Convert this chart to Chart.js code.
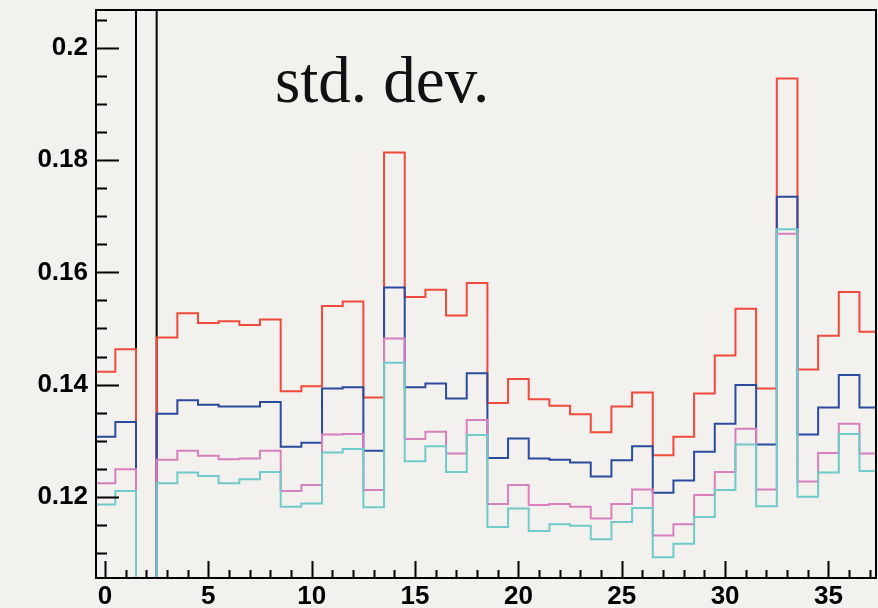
<!DOCTYPE html>
<html>
<head>
<meta charset="utf-8">
<script src="https://cdn.jsdelivr.net/npm/chart.js@4/dist/chart.umd.min.js"></script>
<style>
  html, body { margin: 0; padding: 0; background: #f2f1ee; }
  #wrap { width: 878px; height: 608px; position: relative; }
</style>
</head>
<body>
<div id="wrap"><canvas id="chart"></canvas></div>
<script>
// --- Histogram data (one value per bin, bins centred on integers) ---
const binCenters = [0, 1, 2, 3, 4, 5, 6, 7, 8, 9, 10, 11, 12, 13, 14, 15, 16, 17, 18, 19,
  20, 21, 22, 23, 24, 25, 26, 27, 28, 29, 30, 31, 32, 33, 34, 35, 36, 37];

const redHist = [0.1423, 0.1463, 0, 0.1484, 0.1527, 0.1510, 0.1513, 0.1506, 0.1516, 0.1388,
  0.1397, 0.1540, 0.1548, 0.1377, 0.1814, 0.1556, 0.1569, 0.1523, 0.1581, 0.1367,
  0.1410, 0.1374, 0.1362, 0.1347, 0.1315, 0.1361, 0.1386, 0.1274, 0.1307, 0.1384,
  0.1452, 0.1535, 0.1393, 0.1946, 0.1427, 0.1487, 0.1565, 0.1494];

const blueHist = [0.1307, 0.1333, 0, 0.1348, 0.1372, 0.1364, 0.1361, 0.1361, 0.1369, 0.1289,
  0.1296, 0.1393, 0.1395, 0.1282, 0.1573, 0.1395, 0.1402, 0.1375, 0.1420, 0.1269,
  0.1304, 0.1268, 0.1266, 0.1261, 0.1236, 0.1265, 0.1290, 0.1207, 0.1229, 0.1280,
  0.1330, 0.1399, 0.1293, 0.1735, 0.1311, 0.1359, 0.1417, 0.1359];

const pinkHist = [0.1224, 0.1249, 0, 0.1266, 0.1282, 0.1273, 0.1267, 0.1268, 0.1282, 0.1210,
  0.1221, 0.1311, 0.1312, 0.1212, 0.1482, 0.1303, 0.1316, 0.1277, 0.1337, 0.1187,
  0.1221, 0.1185, 0.1187, 0.1182, 0.1161, 0.1187, 0.1213, 0.1131, 0.1151, 0.1203,
  0.1244, 0.1321, 0.1213, 0.1669, 0.1227, 0.1278, 0.1330, 0.1277];

const cyanHist = [0.1186, 0.1210, 0, 0.1224, 0.1243, 0.1237, 0.1224, 0.1231, 0.1244, 0.1182,
  0.1188, 0.1279, 0.1285, 0.1181, 0.1439, 0.1263, 0.1290, 0.1244, 0.1310, 0.1146,
  0.1179, 0.1139, 0.1151, 0.1148, 0.1124, 0.1155, 0.1180, 0.1092, 0.1116, 0.1164,
  0.1212, 0.1293, 0.1183, 0.1677, 0.1200, 0.1243, 0.1312, 0.1246];

// reference histogram, off scale everywhere except the empty bin
const blackHist = [1, 1, 0, 1, 1, 1, 1, 1, 1, 1, 1, 1, 1, 1, 1, 1, 1, 1, 1, 1,
  1, 1, 1, 1, 1, 1, 1, 1, 1, 1, 1, 1, 1, 1, 1, 1, 1, 1];

const xTickValues = [0, 5, 10, 15, 20, 25, 30, 35];
const yTickValues = [0.12, 0.14, 0.16, 0.18, 0.2];
const yTickLabels = ["0.12", "0.14", "0.16", "0.18", "0.2"];

const X_MIN = -0.435, X_MAX = 37.3;
const Y_MIN = 0.1055, Y_MAX = 0.2068;

// Turn bin contents into step outline points (left edge, right edge)
function toSteps(values) {
  const pts = [];
  values.forEach((v, i) => {
    pts.push({ x: binCenters[i] - 0.5, y: v });
    pts.push({ x: binCenters[i] + 0.5, y: v });
  });
  return pts;
}

function histDataset(values, color) {
  return {
    data: toSteps(values),
    borderColor: color,
    borderWidth: 2,
    pointRadius: 0,
    tension: 0,
    fill: false,
    borderJoinStyle: "miter",
    borderCapStyle: "butt",
    clip: 0,
  };
}

// --- Frame, inward ticks, in-plot text ---
const framePlugin = {
  id: "rootFrame",
  beforeDraw(chart) {
    const ctx = chart.ctx;
    ctx.save();
    ctx.fillStyle = "#f2f1ee";
    ctx.fillRect(0, 0, chart.width, chart.height);
    ctx.restore();
  },
  afterDraw(chart) {
    const { ctx, chartArea: a, scales } = chart;
    const xs = scales.x, ys = scales.y;
    ctx.save();
    ctx.strokeStyle = "#000";
    ctx.lineWidth = 2;

    // y ticks: majors every 0.02, minors every 0.005
    ctx.beginPath();
    for (let k = 21; k <= 41; k++) {
      const v = k * 0.005;
      if (v < Y_MIN || v > Y_MAX) continue;
      const y = Math.round(ys.getPixelForValue(v)) + 0.5;
      const len = k % 4 === 0 ? 23 : 11;
      ctx.moveTo(a.left, y);
      ctx.lineTo(a.left + len, y);
    }
    // x ticks: majors every 5, minors every 1
    for (let k = 0; k <= 37; k++) {
      const x = Math.round(xs.getPixelForValue(k)) + 0.5;
      const len = k % 5 === 0 ? 17 : 8;
      ctx.moveTo(x, a.bottom);
      ctx.lineTo(x, a.bottom - len);
    }
    ctx.stroke();

    ctx.strokeRect(a.left, a.top, a.right - a.left, a.bottom - a.top);

    ctx.fillStyle = "#111";
    ctx.font = "65px 'Liberation Serif', 'DejaVu Serif', serif";
    ctx.textBaseline = "alphabetic";
    ctx.fillText("std. dev.", a.left + 179, a.top + 92);
    ctx.restore();
  },
};

const tickFont = { family: "'Liberation Sans', Arial, sans-serif", size: 26, weight: "bold" };

new Chart(document.getElementById("chart").getContext("2d"), {
  type: "line",
  data: {
    datasets: [
      histDataset(cyanHist, "#6fcaca"),
      histDataset(pinkHist, "#d87fbe"),
      histDataset(blueHist, "#2b4c9e"),
      histDataset(redHist, "#ef4a3b"),
      histDataset(blackHist, "#000000"),
    ],
  },
  options: {
    responsive: true,
    maintainAspectRatio: false,
    devicePixelRatio: 1,
    animation: false,
    layout: { padding: { top: 10, right: 2, left: 0, bottom: 0 } },
    plugins: { legend: { display: false }, tooltip: { enabled: false } },
    scales: {
      x: {
        type: "linear",
        min: X_MIN,
        max: X_MAX,
        grid: { display: false, drawTicks: false },
        border: { display: false },
        afterBuildTicks: (s) => { s.ticks = xTickValues.map((v) => ({ value: v })); },
        afterFit: (s) => {
          s.height = 30;
          s.paddingLeft = 0;
          s.paddingRight = 0;
        },
        ticks: {
          font: tickFont,
          color: "#000",
          padding: 3,
          maxRotation: 0,
          autoSkip: false,
          callback: (v) => String(v),
        },
      },
      y: {
        type: "linear",
        min: Y_MIN,
        max: Y_MAX,
        grid: { display: false, drawTicks: false },
        border: { display: false },
        afterBuildTicks: (s) => { s.ticks = yTickValues.map((v) => ({ value: v })); },
        afterFit: (s) => {
          s.width = 96;
          s.paddingTop = 0;
          s.paddingBottom = 0;
        },
        ticks: {
          font: tickFont,
          color: "#000",
          padding: 8,
          autoSkip: false,
          callback: (v) => yTickLabels[yTickValues.indexOf(v)] ?? "",
        },
      },
    },
  },
  plugins: [framePlugin],
});
</script>
</body>
</html>
